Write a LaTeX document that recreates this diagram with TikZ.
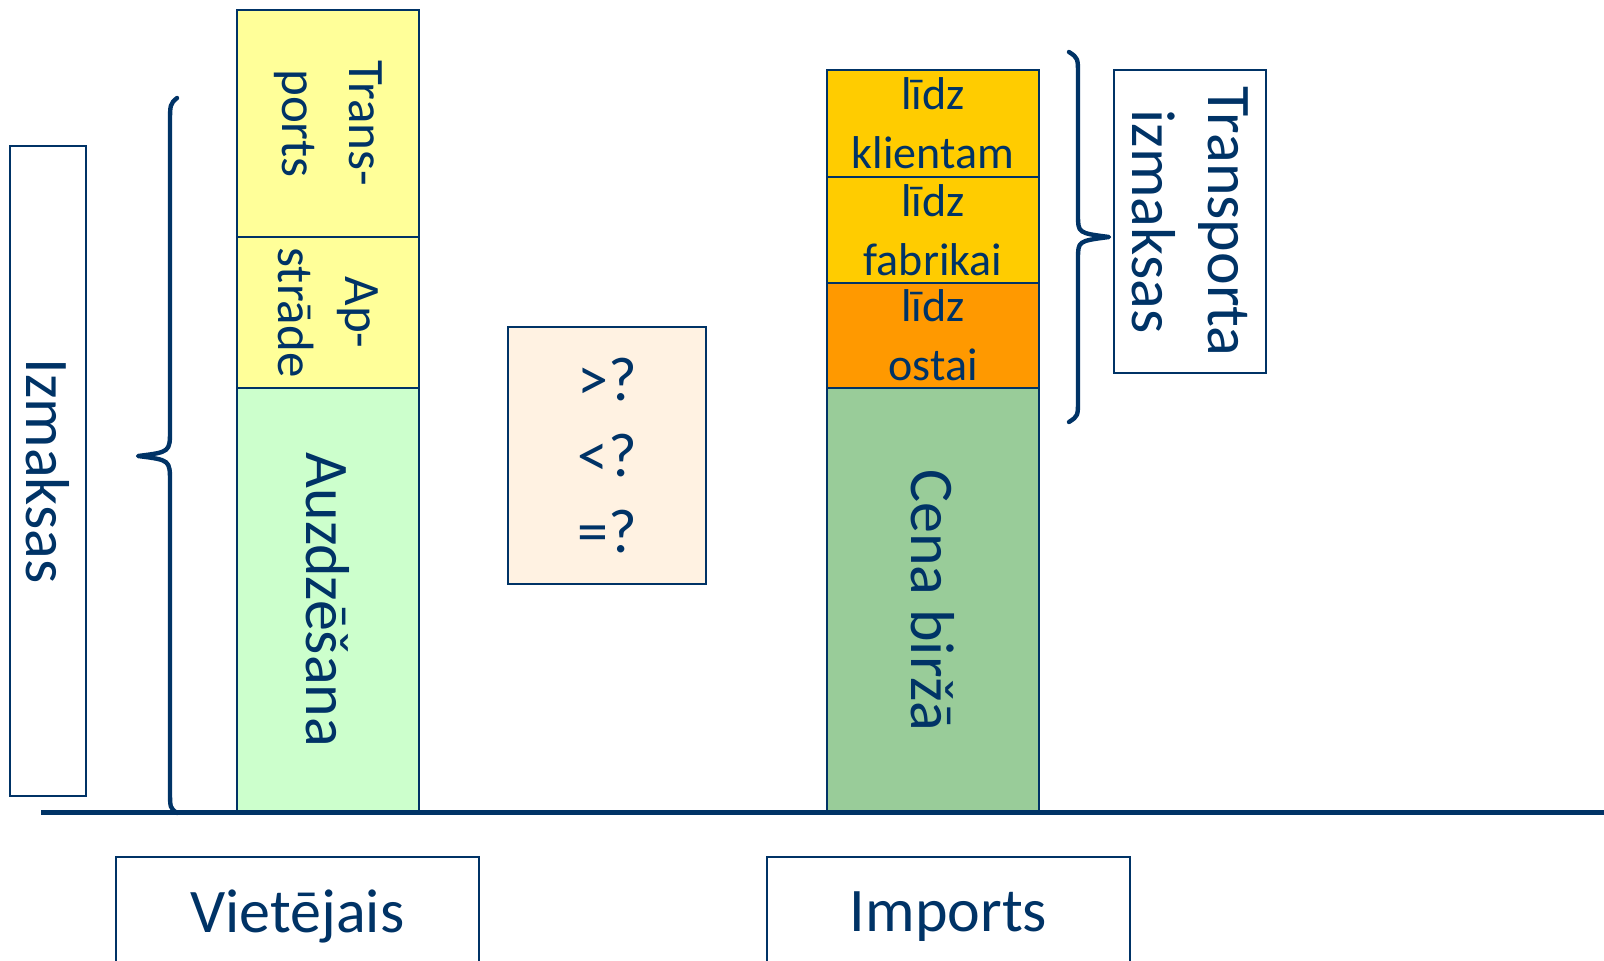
\documentclass[tikz,border=0pt]{standalone}
\usepackage{fontspec}
\setmainfont{Carlito}
\definecolor{navy}{HTML}{003366}
\definecolor{yellowpart}{HTML}{FFFF99}
\definecolor{mintpart}{HTML}{CCFFCC}
\definecolor{goldpart}{HTML}{FFCC00}
\definecolor{orangepart}{HTML}{FF9900}
\definecolor{greenpart}{HTML}{99CC99}
\definecolor{creampart}{HTML}{FFF2E2}
\begin{document}
\begin{tikzpicture}[x=0.5pt,y=-0.5pt,
seg/.style ={rectangle, draw=navy, line width=0.9pt, text=navy,
  inner sep=0pt, align=center
},
vseg/.style ={seg, rotate=-90},
note/.style ={seg, fill=white},
bigtext/.style ={font=\fontsize{31}{38}\selectfont},
midtext/.style ={font=\fontsize{25.5}{33.5}\selectfont},
lowtext/.style ={font=\fontsize{23}{29.5}\selectfont},
curly/.style ={navy, line width=2.2pt, line join=round, line cap=round}]
\useasboundingbox (0,0) rectangle (1604,960);
\clip (0,0) rectangle (1604,960);
% local side
\node (izm) at (48,471) [vseg, fill=white, bigtext, minimum width=325pt, minimum height=38pt] {Izmaksas};
\node (trans) at (328,123.5) [vseg, fill=yellowpart, midtext, minimum width=113.5pt, minimum height=91pt] {Trans-\\ports};
\node (apstr) at (328,312.5) [vseg, fill=yellowpart, midtext, minimum width=75.5pt, minimum height=91pt] {Ap-\\strāde};
\node (auzd) at (328,600) [vseg, fill=mintpart, bigtext, minimum width=212pt, minimum height=91pt] {Auzdzēšana};
\node (cmp) at (607,455.5) [seg, fill=creampart, bigtext, minimum width=99pt, minimum height=128.5pt] {>?\\<?\\=?};
% import side
\node (klient) at (933,123.5) [seg, fill=goldpart, lowtext, minimum width=106pt, minimum height=53.5pt] {līdz\\klientam};
\node (fabr) at (933,230) [seg, fill=goldpart, lowtext, minimum width=106pt, minimum height=53pt] {līdz\\fabrikai};
\node (ostai) at (933,335.5) [seg, fill=orangepart, lowtext, minimum width=106pt, minimum height=52.5pt] {līdz\\ostai};
\node (cena) at (933,600) [vseg, fill=greenpart, bigtext, minimum width=212pt, minimum height=106pt] {Cena biržā};
\node (tiz) at (1190,221.5) [vseg, fill=white, bigtext, minimum width=151.5pt, minimum height=76pt] {Transporta\\izmaksas};
\node (viet) at (297.5,916.5) [note, bigtext, minimum width=181.5pt, minimum height=59.5pt] {Vietējais};
\node (imp) at (948.5,916.5) [note, bigtext, minimum width=181.5pt, minimum height=59.5pt] {Imports};
% braces
\draw[curly] (177,98) .. controls (170,104) .. (170,125) -- (170,430)
  .. controls (170,452) .. (138,456) .. controls (170,460) .. (170,482) -- (170,790)
  .. controls (170,808) .. (177,813);
\draw[curly] (1069,52) .. controls (1078,58) .. (1078,75) -- (1078,215)
  .. controls (1078,233) .. (1109,237) .. controls (1078,241) .. (1078,259) -- (1078,400)
  .. controls (1078,416) .. (1069,422);
% axis
\coordinate (axl) at (41,812);
\coordinate (axr) at (1604,812);
\draw[navy, line width=2.5pt] (axl) -- (axr);
\end{tikzpicture}
\end{document}
